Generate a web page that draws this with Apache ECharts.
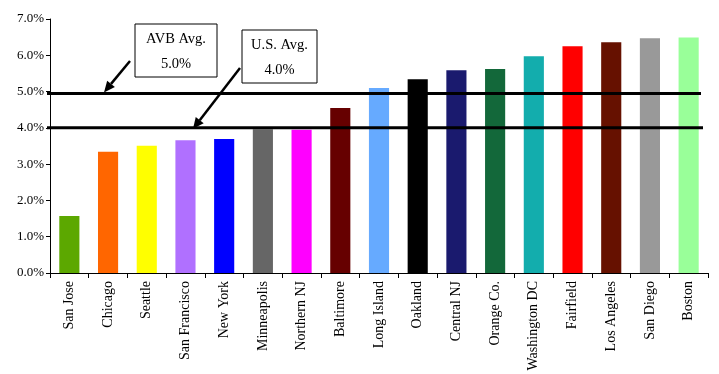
<!DOCTYPE html>
<html>
<head>
<meta charset="utf-8">
<script src="https://cdn.jsdelivr.net/npm/echarts@6/dist/echarts.min.js"></script>
<style>html,body{margin:0;padding:0;background:#fff}#c{width:719px;height:374px}</style>
</head>
<body>
<div id="c"></div>
<script>
const categories = ['San Jose','Chicago','Seattle','San Francisco','New York','Minneapolis','Northern NJ','Baltimore','Long Island','Oakland','Central NJ','Orange Co.','Washington DC','Fairfield','Los Angeles','San Diego','Boston'];
const values = [1.57, 3.34, 3.51, 3.66, 3.69, 3.96, 3.95, 4.55, 5.10, 5.34, 5.59, 5.62, 5.97, 6.25, 6.36, 6.47, 6.49];
const barColors = ['#5ca800','#ff6600','#ffff00','#b070ff','#0000ff','#666666','#ff00ff','#660000','#66aaff','#000000','#1a1a6e','#13683a','#13adad','#ff0000','#661100','#999999','#99ff99'];
const avgNames = ['AVB Avg.', 'U.S. Avg.'];
const avgValues = [4.95, 4.0];
const avgLabels = ['5.0%', '4.0%'];

const FONT = 'Liberation Serif';
const chart = echarts.init(document.getElementById('c'));
chart.setOption({
  animation: false,
  grid: {left: 50, right: 11, top: 19, bottom: 101},
  xAxis: {
    type: 'category', data: categories,
    axisLine: {lineStyle: {color: '#000', width: 1}},
    axisTick: {show: true, length: 5, lineStyle: {color: '#000'}},
    axisLabel: {rotate: 90, color: '#000', fontFamily: FONT, fontSize: 14, interval: 0, margin: 8}
  },
  yAxis: {
    type: 'value', min: 0, max: 7, interval: 1,
    splitLine: {show: false},
    axisLine: {show: true, lineStyle: {color: '#000', width: 1}},
    axisTick: {show: true, length: 4, lineStyle: {color: '#000'}},
    axisLabel: {color: '#000', fontFamily: FONT, fontSize: 13, margin: 6, formatter: v => v.toFixed(1) + '%'}
  },
  series: [{
    type: 'bar', barWidth: '52%',
    data: values.map((v, i) => ({value: v, itemStyle: {color: barColors[i]}}))
  }]
});

function arrow(x1, y1, x2, y2) {
  const ang = Math.atan2(y2 - y1, x2 - x1);
  const L = 11, W = 5;
  const bx = x2 - L * Math.cos(ang), by = y2 - L * Math.sin(ang);
  const px = -Math.sin(ang) * W, py = Math.cos(ang) * W;
  return [
    {type: 'line', shape: {x1: x1, y1: y1, x2: bx, y2: by}, style: {stroke: '#000', lineWidth: 2.5}, z: 100},
    {type: 'polygon', shape: {points: [[x2, y2], [bx + px, by + py], [bx - px, by - py]]}, style: {fill: '#000'}, z: 100}
  ];
}
function box(x, y, w, h, t1, t2) {
  return [
    {type: 'rect', shape: {x: x, y: y, width: w, height: h}, style: {fill: '#fff', stroke: '#000', lineWidth: 1}, z: 100},
    {type: 'text', style: {x: x + w / 2, y: y + 15, text: t1, fill: '#000', font: '14.5px ' + FONT, align: 'center', verticalAlign: 'middle'}, z: 101},
    {type: 'text', style: {x: x + w / 2, y: y + 40, text: t2, fill: '#000', font: '14.5px ' + FONT, align: 'center', verticalAlign: 'middle'}, z: 101}
  ];
}

const y0 = chart.convertToPixel({yAxisIndex: 0}, avgValues[0]);
const y1 = chart.convertToPixel({yAxisIndex: 0}, avgValues[1]);
let els = [];
els.push({type: 'line', shape: {x1: 47, y1: y0, x2: 701, y2: y0}, style: {stroke: '#000', lineWidth: 3}, z: 90});
els.push({type: 'line', shape: {x1: 47, y1: y1, x2: 703, y2: y1}, style: {stroke: '#000', lineWidth: 3}, z: 90});
els = els.concat(box(135, 24, 82, 53, avgNames[0], avgLabels[0]));
els = els.concat(box(242, 30, 75, 53, avgNames[1], avgLabels[1]));
els = els.concat(arrow(130, 61, 104, y0 - 1));
els = els.concat(arrow(240, 68, 193, y1 + 1));
chart.setOption({graphic: {elements: els}});
</script>
</body>
</html>
